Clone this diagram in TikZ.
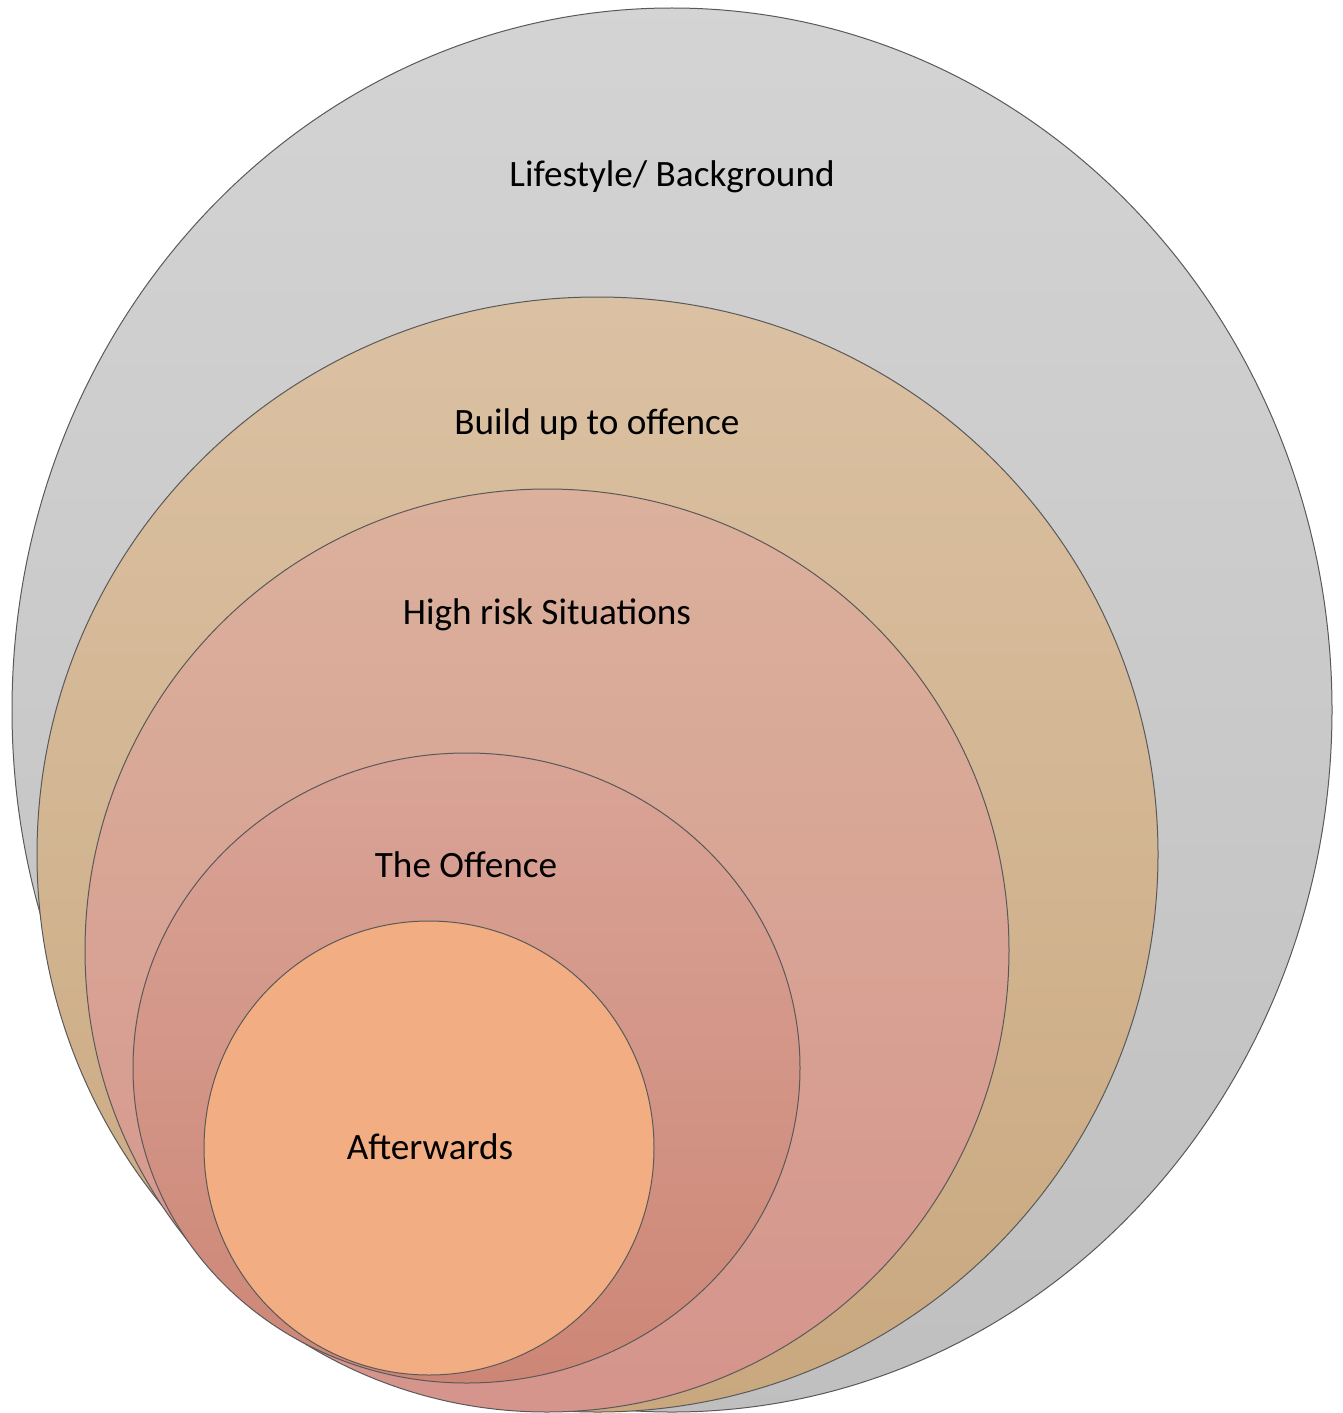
\documentclass[tikz,border=0pt]{standalone}
\usepackage{fontspec}
\setmainfont{Carlito}
\tikzset{
  ring/.style={draw=black!65, line width=0.5pt},
  ringlabel/.style={font=\fontsize{18.6}{22}\selectfont, text=black}
}
\begin{document}
\begin{tikzpicture}[x=0.5pt, y=-0.5pt]
        \useasboundingbox (0, 0) rectangle (1343, 1413);

        % Draw nested rings, outer first.
        \draw [ring, top color=black!17, bottom color=black!25] (672, 710) ellipse (660 and 702);
        \draw [ring, top color={rgb,255:red,219;green,193;blue,163}, bottom color={rgb,255:red,201;green,168;blue,127}] (597.5, 854.5) ellipse (560.5 and 557.5);
        \draw [ring, top color={rgb,255:red,219;green,177;blue,156}, bottom color={rgb,255:red,213;green,148;blue,140}] (547, 950.5) ellipse (462 and 461.5);
        \draw [ring, top color={rgb,255:red,217;green,164;blue,151}, bottom color={rgb,255:red,205;green,134;blue,118}] (466.5, 1068) ellipse (333.5 and 315);
        \draw [ring, fill={rgb,255:red,242;green,174;blue,130}] (429, 1148) ellipse (225 and 227);

        % Draw labels
        \node [ringlabel] (lifestyle) at (672, 177) {Lifestyle/ Background};
        \node [ringlabel] (buildup) at (597, 425) {Build up to offence};
        \node [ringlabel] (highrisk) at (547, 615) {High risk Situations};
        \node [ringlabel] (offence) at (466, 865) {The Offence};
        \node [ringlabel] (afterwards) at (430, 1147) {Afterwards};
      \end{tikzpicture}
\end{document}
